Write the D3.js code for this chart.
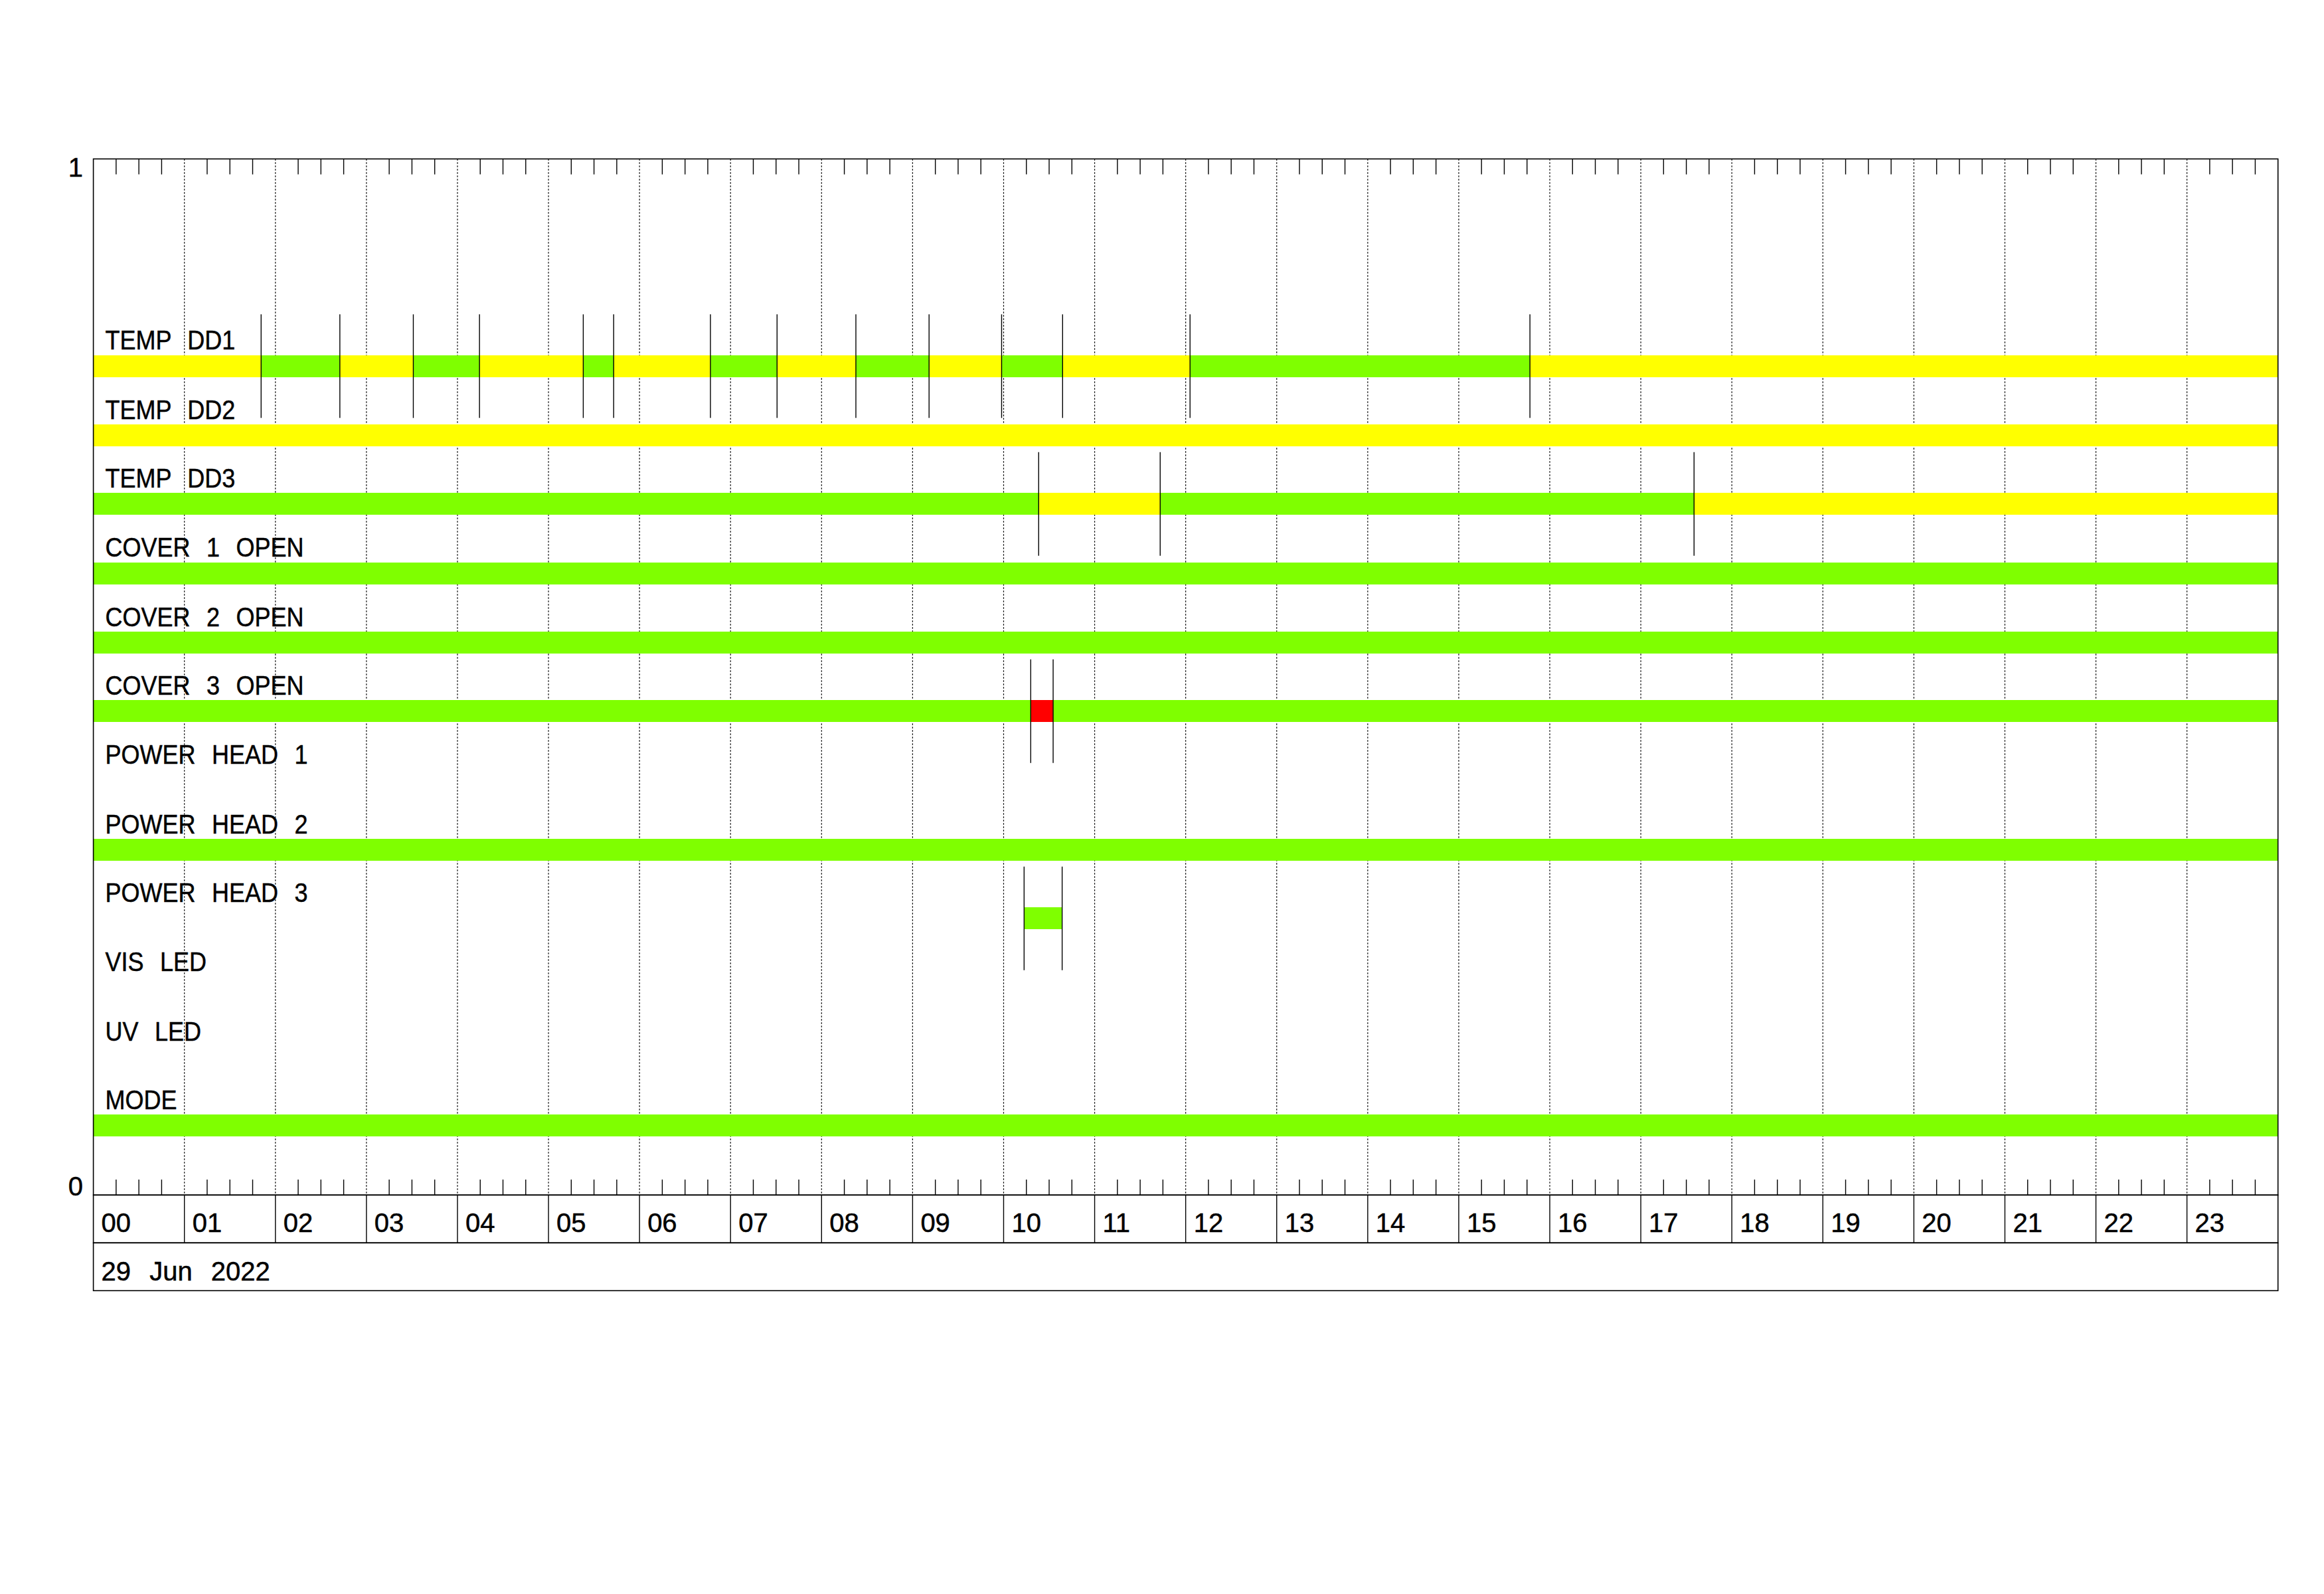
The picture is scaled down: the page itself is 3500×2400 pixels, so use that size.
<!DOCTYPE html>
<html>
<head>
<meta charset="utf-8">
<script src="https://cdn.jsdelivr.net/npm/d3@7"></script>
<style>
  html, body { margin: 0; padding: 0; background: #fff; }
  svg { display: block; }
  text { font-family: "Liberation Sans", Arial, sans-serif; fill: #000; white-space: pre; stroke: #000; stroke-width: 0.5; }
</style>
</head>
<body>
<svg id="chart" width="3500" height="2400"></svg>
<script>
// ---------------- DATA ----------------
const dateLabel = "29 Jun 2022";
const hourLabels = ["00","01","02","03","04","05","06","07","08","09","10","11",
                    "12","13","14","15","16","17","18","19","20","21","22","23"];
const yTickLabels = ["0", "1"];
const yTickValues = [0, 1];

const rowLabels = ["TEMP DD1","TEMP DD2","TEMP DD3","COVER 1 OPEN","COVER 2 OPEN","COVER 3 OPEN",
                   "POWER HEAD 1","POWER HEAD 2","POWER HEAD 3","VIS LED","UV LED","MODE"];
const rowValues = [0.800, 0.733, 0.667, 0.600, 0.533, 0.467, 0.400, 0.333, 0.267, 0.200, 0.133, 0.067];

// segments: [start hour, end hour, state]  (G = ok/green, Y = warning/yellow, R = alarm/red)
const segTempDD1 = [[0,1.843,"Y"],[1.843,2.708,"G"],[2.708,3.515,"Y"],[3.515,4.242,"G"],[4.242,5.382,"Y"],
                    [5.382,5.716,"G"],[5.716,6.779,"Y"],[6.779,7.511,"G"],[7.511,8.377,"Y"],[8.377,9.181,"G"],
                    [9.181,9.978,"Y"],[9.978,10.648,"G"],[10.648,12.048,"Y"],[12.048,15.782,"G"],[15.782,24,"Y"]];
const segTempDD2 = [[0,24,"Y"]];
const segTempDD3 = [[0,10.385,"G"],[10.385,11.720,"Y"],[11.720,17.585,"G"],[17.585,24,"Y"]];
const segCover1  = [[0,24,"G"]];
const segCover2  = [[0,24,"G"]];
const segCover3  = [[0,10.298,"G"],[10.298,10.544,"R"],[10.544,24,"G"]];
const segPower1  = [];
const segPower2  = [[0,24,"G"]];
const segPower3  = [[10.225,10.643,"G"]];
const segVisLed  = [];
const segUvLed   = [];
const segMode    = [[0,24,"G"]];
const rowSegments = [segTempDD1, segTempDD2, segTempDD3, segCover1, segCover2, segCover3,
                     segPower1, segPower2, segPower3, segVisLed, segUvLed, segMode];

const stateColors = { G: "#7fff00", Y: "#ffff00", R: "#ff0000" };

// ---------------- LAYOUT ----------------
const pLeft = 140.6, pRight = 3430.7, pTop = 239.3, pBottom = 1799.3;
const labelRowH = 72, dateRowH = 72;
const barHalf = 16.5, markHalf = 78;
const fontSize = 40;

const svg = d3.select("#chart");
const x = d3.scaleLinear().domain([0, 24]).range([pLeft, pRight]);
const y = d3.scaleLinear().domain([0, 1]).range([pBottom, pTop]);

// hour dotted gridlines
const hours = d3.range(1, 24);
svg.append("g").selectAll("line").data(hours).join("line")
  .attr("x1", d => x(d)).attr("x2", d => x(d))
  .attr("y1", pTop).attr("y2", pBottom)
  .attr("stroke", "#000").attr("stroke-width", 1.2)
  .attr("stroke-dasharray", "2.5,2.5");

// minor ticks (15 min) top and bottom
const minor = d3.range(0, 24, 0.25).filter(d => Math.abs(d - Math.round(d)) > 1e-6);
const tickLen = 23.3;
svg.append("g").selectAll("line").data(minor).join("line")
  .attr("x1", d => x(d)).attr("x2", d => x(d))
  .attr("y1", pTop).attr("y2", pTop + tickLen)
  .attr("stroke", "#000").attr("stroke-width", 1.4);
svg.append("g").selectAll("line").data(minor).join("line")
  .attr("x1", d => x(d)).attr("x2", d => x(d))
  .attr("y1", pBottom).attr("y2", pBottom - tickLen)
  .attr("stroke", "#000").attr("stroke-width", 1.4);

// bars
const segData = [];
rowSegments.forEach((segs, i) => segs.forEach(s => segData.push({ row: i, s0: s[0], s1: s[1], st: s[2] })));
svg.append("g").selectAll("rect").data(segData).join("rect")
  .attr("x", d => x(d.s0))
  .attr("width", d => x(d.s1) - x(d.s0))
  .attr("y", d => y(rowValues[d.row]) - barHalf)
  .attr("height", barHalf * 2)
  .attr("fill", d => stateColors[d.st])
  .attr("shape-rendering", "crispEdges");

// transition marks at state changes
const marks = [];
rowSegments.forEach((segs, i) => {
  const pts = new Set();
  segs.forEach(s => { if (s[0] > 0) pts.add(s[0]); if (s[1] < 24) pts.add(s[1]); });
  pts.forEach(p => marks.push({ row: i, t: p }));
});
svg.append("g").selectAll("line").data(marks).join("line")
  .attr("x1", d => x(d.t)).attr("x2", d => x(d.t))
  .attr("y1", d => y(rowValues[d.row]) - markHalf)
  .attr("y2", d => y(rowValues[d.row]) + markHalf)
  .attr("stroke", "#000").attr("stroke-width", 1.4);

// row labels (slightly condensed, wide word gaps like the reference)
svg.append("g").selectAll("text").data(rowLabels).join("text")
  .attr("transform", (d, i) => `translate(${pLeft + 18},${y(rowValues[i]) - barHalf - 8.5}) scale(0.9,1)`)
  .attr("font-size", fontSize)
  .attr("word-spacing", 16)
  .text(d => d);

// plot frame
svg.append("rect")
  .attr("x", pLeft).attr("y", pTop)
  .attr("width", pRight - pLeft).attr("height", pBottom - pTop)
  .attr("fill", "none").attr("stroke", "#000").attr("stroke-width", 1.6);

// y tick labels
svg.append("g").selectAll("text").data(yTickValues).join("text")
  .attr("x", 125)
  .attr("y", d => d === 1 ? y(d) + 27 : y(d) + 1)
  .attr("text-anchor", "end")
  .attr("font-size", fontSize)
  .text((d, i) => yTickLabels[i]);

// hour label row
const hourG = svg.append("g");
hourG.append("rect")
  .attr("x", pLeft).attr("y", pBottom)
  .attr("width", pRight - pLeft).attr("height", labelRowH)
  .attr("fill", "none").attr("stroke", "#000").attr("stroke-width", 1.6);
hourG.selectAll("line").data(hours).join("line")
  .attr("x1", d => x(d)).attr("x2", d => x(d))
  .attr("y1", pBottom).attr("y2", pBottom + labelRowH)
  .attr("stroke", "#000").attr("stroke-width", 1.4);
hourG.selectAll("text").data(hourLabels).join("text")
  .attr("x", (d, i) => x(i) + 12)
  .attr("y", pBottom + 56)
  .attr("font-size", fontSize)
  .text(d => d);

// date row
svg.append("rect")
  .attr("x", pLeft).attr("y", pBottom + labelRowH)
  .attr("width", pRight - pLeft).attr("height", dateRowH)
  .attr("fill", "none").attr("stroke", "#000").attr("stroke-width", 1.6);
svg.append("text")
  .attr("x", pLeft + 12)
  .attr("y", pBottom + labelRowH + 57)
  .attr("font-size", fontSize)
  .attr("word-spacing", 17)
  .text(dateLabel);
</script>
</body>
</html>
